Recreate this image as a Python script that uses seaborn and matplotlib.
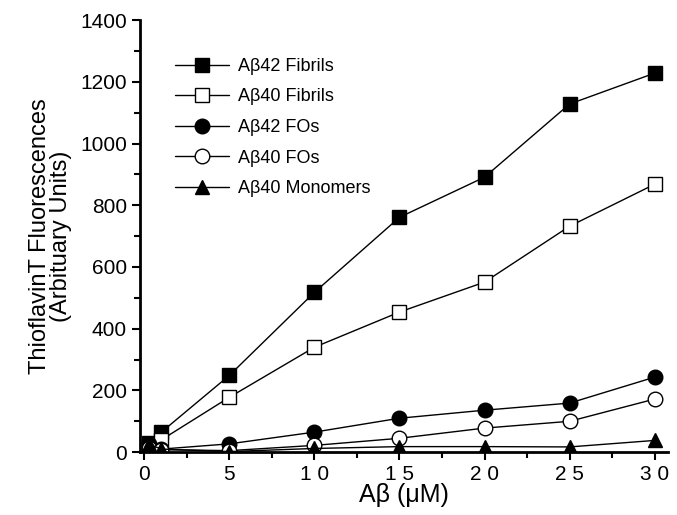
import pandas as pd
import matplotlib
matplotlib.use('Agg')
import matplotlib.pyplot as plt
import seaborn as sns
from matplotlib.ticker import MultipleLocator

conc = [0.3, 1, 5, 10, 15, 20, 25, 30]
ab42_fibrils = [30, 65, 249, 518, 761, 891, 1128, 1228]
ab40_fibrils = [20, 40, 178, 340, 454, 551, 732, 868]
ab42_fos = [25, 10, 27, 65, 110, 136, 159, 243]
ab40_fos = [15, 8, 5, 22, 45, 78, 100, 172]
ab40_monomers = [25, 10, 2, 12, 18, 18, 17, 38]

series_names = ['Aβ42 Fibrils', 'Aβ40 Fibrils', 'Aβ42 FOs', 'Aβ40 FOs', 'Aβ40 Monomers']
series_values = [ab42_fibrils, ab40_fibrils, ab42_fos, ab40_fos, ab40_monomers]
x_ticks = [0, 5, 10, 15, 20, 25, 30]
x_tick_labels = ['0', '5', '1 0', '1 5', '2 0', '2 5', '3 0']

sns.set_style('ticks', {'axes.edgecolor': 'black', 'text.color': 'black',
                        'xtick.color': 'black', 'ytick.color': 'black',
                        'axes.labelcolor': 'black'})
plt.rcParams['font.family'] = ['Liberation Sans', 'DejaVu Sans']

markers = ['s', 's', 'o', 'o', '^']
faces = ['black', 'white', 'black', 'white', 'black']
sizes = [9.5, 9.5, 10.5, 10.5, 10.5]

fig = plt.figure(figsize=(6.77, 5.15), dpi=100)
ax = fig.add_axes([0.207, 0.122, 0.78, 0.839])

for name, vals, m, fc, ms in zip(series_names, series_values, markers, faces, sizes):
    df = pd.DataFrame({'conc': conc, 'value': vals})
    sns.lineplot(data=df, x='conc', y='value', ax=ax, color='black', linewidth=1,
                 marker=m, markersize=ms, markerfacecolor=fc, markeredgecolor='black',
                 markeredgewidth=1, label=name)

ax.set_xlim(-0.25, 30.8)
ax.set_ylim(0, 1400)
ax.set_xticks(x_ticks)
ax.set_xticklabels(x_tick_labels)
ax.xaxis.set_minor_locator(MultipleLocator(2.5))
ax.yaxis.set_major_locator(MultipleLocator(200))
ax.yaxis.set_minor_locator(MultipleLocator(100))
ax.tick_params(which='major', length=6, width=1.5, labelsize=15, direction='out')
ax.tick_params(which='minor', length=4, width=1.5, direction='out')
for s in ['left', 'bottom']:
    ax.spines[s].set_linewidth(2)
sns.despine(ax=ax)

ax.set_xlabel('Aβ (μM)', fontsize=18, labelpad=-1)
ax.set_ylabel('ThioflavinT Fluorescences\n(Arbituary Units)', fontsize=17, linespacing=0.9, labelpad=6)

ax.legend(loc='upper left', bbox_to_anchor=(0.035, 0.95), frameon=False, fontsize=13,
          handlelength=3, handletextpad=0.5, labelspacing=0.75)

fig.savefig('out.png', dpi=100)
